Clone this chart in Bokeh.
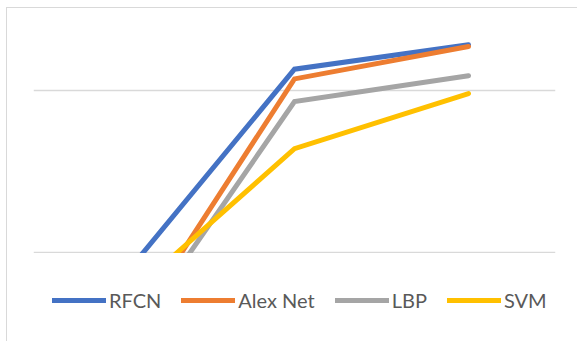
from bokeh.plotting import figure
from bokeh.models import FixedTicker, Legend, LegendItem, Range1d
from bokeh.layouts import column
from bokeh.embed import file_html
from bokeh.resources import INLINE

categories = ["A", "B", "C"]
rfcn = [78.3, 91.3, 92.8]
alexnet = [74.2, 90.7, 92.7]
lbp = [73.8, 89.3, 90.9]
svm = [76.9, 86.4, 89.8]
series_names = ["RFCN", "Alex Net", "LBP", "SVM"]
colors = ["#4472C4", "#ED7D31", "#A5A5A5", "#FFC000"]
grid_ticks = [80, 90]
series = [rfcn, alexnet, lbp, svm]


def style(fig):
    fig.xaxis.visible = False
    fig.yaxis.visible = False
    fig.xgrid.visible = False
    fig.outline_line_color = None
    fig.background_fill_color = "white"
    fig.border_fill_color = "white"


# main chart
p = figure(width=571, height=245, x_range=categories, y_range=(79.94, 94.3),
           output_backend="svg", toolbar_location=None,
           min_border_left=26, min_border_right=23, min_border_top=12, min_border_bottom=0)
style(p)
p.ygrid.ticker = FixedTicker(ticks=grid_ticks)
p.ygrid.grid_line_color = "#d9d9d9"
p.ygrid.grid_line_width = 1.5
for vals, c in zip(series, colors):
    p.line(categories, vals, line_color=c, line_width=5, line_cap="round", line_join="miter")

# legend strip (same series, drawn outside its visible range so only the legend shows)
p2 = figure(width=571, height=88, x_range=categories, y_range=Range1d(1000, 1001),
            output_backend="svg", toolbar_location=None,
            min_border_left=0, min_border_right=0, min_border_top=0, min_border_bottom=0)
style(p2)
p2.ygrid.visible = False
items = []
for name, vals, c in zip(series_names, series, colors):
    r = p2.line(categories, vals, line_color=c, line_width=5, line_cap="round")
    items.append(LegendItem(label=name, renderers=[r]))
legend = Legend(items=items, orientation="horizontal", location=(19, 29),
                glyph_width=54, glyph_height=20, label_standoff=3, spacing=20,
                padding=0, margin=0, border_line_color=None, background_fill_alpha=0,
                label_text_font="Lato", label_text_font_size="20px", label_text_color="#595959")
p2.add_layout(legend, "center")

layout = column(p, p2, spacing=0,
                styles={"margin-left": "6px", "margin-top": "7px",
                        "border-left": "1px solid #d9d9d9", "border-top": "1px solid #d9d9d9"})

open("out.html", "w").write(file_html(layout, INLINE))
